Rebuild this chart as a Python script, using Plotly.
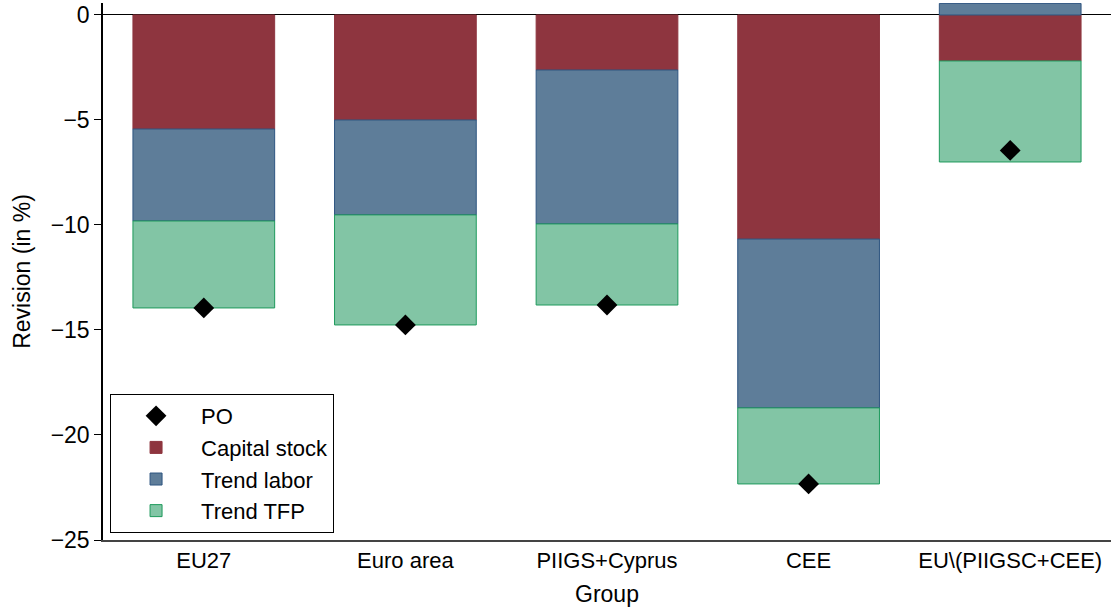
"""Revision of potential output by component, stacked bars per country group."""

import plotly.graph_objects as go

groups = ["EU27", "Euro area", "PIIGS+Cyprus", "CEE", "EU\\(PIIGSC+CEE)"]
capital_stock = [-5.43, -5.00, -2.62, -10.67, -2.19]
trend_labor = [-4.38, -4.52, -7.33, -8.04, 0.55]
trend_tfp = [-4.14, -5.24, -3.86, -3.62, -4.81]
po = [-13.95, -14.76, -13.81, -22.33, -6.45]

FONT = "Arial, Liberation Sans, sans-serif"

fig = go.Figure()

fig.add_trace(
    go.Bar(
        x=groups,
        y=capital_stock,
        name="Capital stock",
        legendrank=2,
        marker={"color": "#8E353F", "line": {"color": "#8E353F", "width": 1}},
    )
)
fig.add_trace(
    go.Bar(
        x=groups,
        y=trend_labor,
        name="Trend labor",
        legendrank=3,
        marker={"color": "#5E7D99", "line": {"color": "#2E5580", "width": 1}},
    )
)
fig.add_trace(
    go.Bar(
        x=groups,
        y=trend_tfp,
        name="Trend TFP",
        legendrank=4,
        marker={"color": "#82C5A5", "line": {"color": "#1E9A5C", "width": 1}},
    )
)
# diamonds drawn last so they sit on top of the bars
fig.add_trace(
    go.Scatter(
        x=groups,
        y=po,
        mode="markers",
        marker={"symbol": "diamond", "size": 16, "color": "black"},
        name="PO",
        legendrank=1,
    )
)

fig.update_layout(
    width=1111,
    height=611,
    barmode="relative",
    bargap=0.297,
    plot_bgcolor="white",
    paper_bgcolor="white",
    font={"family": FONT, "size": 23, "color": "black"},
    margin={"l": 103, "r": 0, "t": 3, "b": 71, "autoexpand": False},
    showlegend=True,
    legend={
        "traceorder": "normal",
        "x": 0.007,
        "y": 0.013,
        "xanchor": "left",
        "yanchor": "bottom",
        "bordercolor": "black",
        "borderwidth": 1,
        "bgcolor": "white",
        "font": {"size": 22},
        "itemwidth": 80,
        "tracegroupgap": 0,
    },
    xaxis={
        "title": {"text": "Group", "font": {"size": 23}, "standoff": 14},
        "automargin": False,
        "range": [-0.5, 4.5],
        "showline": True,
        "linecolor": "#444444",
        "linewidth": 1.5,
        "ticks": "",
        "showgrid": False,
        "tickfont": {"size": 22},
    },
    yaxis={
        "title": {"text": "Revision (in %)", "font": {"size": 23}, "standoff": 14},
        "automargin": False,
        "range": [-25, 0.57],
        "tickvals": [0, -5, -10, -15, -20, -25],
        "showline": True,
        "linecolor": "black",
        "linewidth": 1.5,
        "ticks": "outside",
        "ticklen": 7,
        "tickcolor": "black",
        "showgrid": False,
        "zeroline": True,
        "zerolinecolor": "black",
        "zerolinewidth": 1,
        "tickfont": {"size": 23},
    },
)

# drop the browser's default body margin so the figure fills the window
fig.write_html(
    "out.html",
    config={"displayModeBar": False},
    post_script="document.body.style.margin='0';document.body.style.overflow='hidden';",
)
